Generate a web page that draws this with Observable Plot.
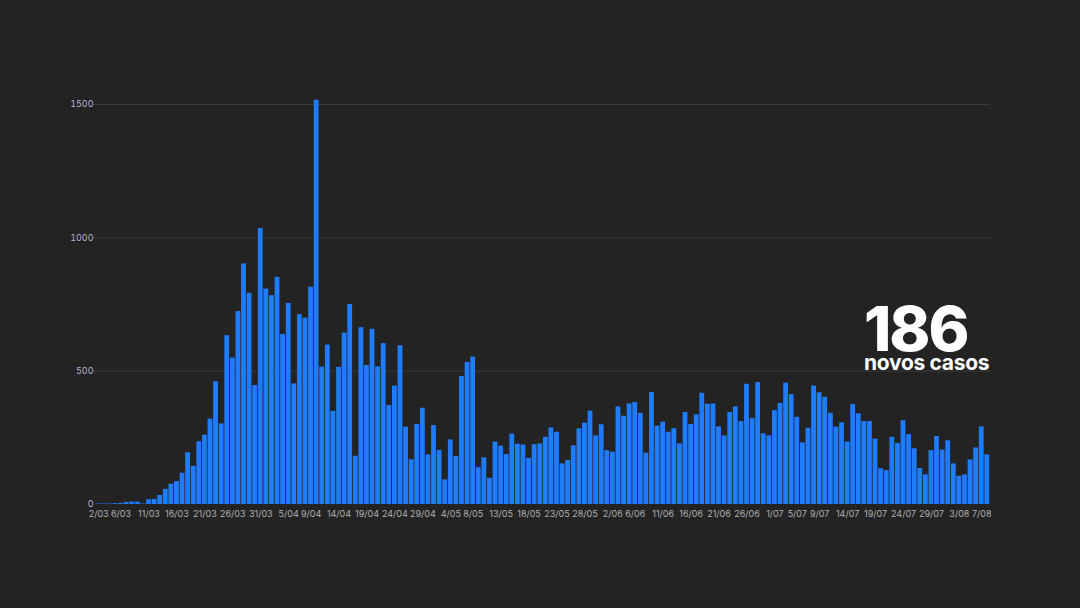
<!DOCTYPE html>
<html>
<head>
<meta charset="utf-8">
<script src="https://cdn.jsdelivr.net/npm/d3@7"></script>
<script src="https://cdn.jsdelivr.net/npm/@observablehq/plot@0.6"></script>
<style>
  html, body { margin: 0; padding: 0; background: #232323; }
  #wrap { position: relative; width: 1080px; height: 608px; overflow: hidden; background: #232323; }
  #note { position: absolute; left: 864px; top: 304px; color: #ffffff; font-family: Inter, "Open Sans", sans-serif; }
  #note .big { font-size: 62px; font-weight: 800; letter-spacing: -2px; line-height: 50px; height: 50px; }
  #note .small { font-size: 21px; font-weight: 700; line-height: 18px; margin-top: 0px; letter-spacing: -0.3px; }
</style>
</head>
<body>
<div id="wrap">
  <div id="chart"></div>
  <div id="note"><div class="big" id="bignum"></div><div class="small">novos casos</div></div>
</div>
<script>
// Daily new cases, 2 March to 8 August
const march = [2,2,2,3,4,8,9,9,2,18,19,34,57,76,86,117,194,143,235,260,320,460,302,633,549,724,902,792,446,1035];
const april = [808,783,852,638,754,452,712,699,815,1516,515,598,349,514,643,750,181,663,521,657,516,603,371,444,595,290,168,300,361,186];
const may = [296,203,92,242,180,480,533,553,138,175,98,234,219,187,264,226,223,173,224,227,252,287,271,152,165,220,284,305,350,257,299];
const june = [202,196,366,331,377,382,342,192,420,294,309,271,284,227,345,300,336,417,376,377,291,257,345,366,311,451,322,457,265,257];
const july = [352,379,455,412,327,231,286,444,419,402,342,290,306,234,375,340,311,311,245,134,127,252,229,314,262,209,135,111,202,255,204];
const august = [239,152,106,111,167,212,291,186];

const tickLabels = ["2/03","6/03","11/03","16/03","21/03","26/03","31/03","5/04","9/04","14/04","19/04","24/04","29/04","4/05","8/05","13/05","18/05","23/05","28/05","2/06","6/06","11/06","16/06","21/06","26/06","1/07","5/07","9/07","14/07","19/07","24/07","29/07","3/08","7/08"];
const yTicks = [0, 500, 1000, 1500];

const months = [["03", march, 2], ["04", april, 1], ["05", may, 1], ["06", june, 1], ["07", july, 1], ["08", august, 1]];
const data = [];
for (const [m, vals, start] of months) {
  vals.forEach((v, i) => data.push({day: `${start + i}/${m}`, cases: v}));
}

document.getElementById("bignum").textContent = data[data.length - 1].cases;

const chart = Plot.plot({
  width: 1080,
  height: 608,
  marginLeft: 95,
  marginRight: 90,
  marginTop: 104,
  marginBottom: 104,
  style: {background: "#232323", fontFamily: "Inter, 'Open Sans', sans-serif", overflow: "visible"},
  x: {type: "band", domain: data.map(d => d.day), padding: 0.14, align: 0.5, axis: null},
  y: {domain: [0, 1500], axis: null},
  marks: [
    Plot.ruleY(yTicks.filter(d => d > 0), {stroke: "#3a3a3a", strokeWidth: 1, insetLeft: -2}),
    Plot.barY(data, {x: "day", y: "cases", fill: "#1f7bff"}),
    Plot.axisY(yTicks, {tickSize: 0, tickPadding: 2, fill: "#b4b1d2", fontSize: 9, label: null, anchor: "left", tickFormat: d => String(d)}),
    Plot.axisX(tickLabels, {tickSize: 0, tickPadding: 6, fill: "#b0b0b0", fontSize: 9, label: null, anchor: "bottom"})
  ]
});
document.getElementById("chart").appendChild(chart);
</script>
</body>
</html>
